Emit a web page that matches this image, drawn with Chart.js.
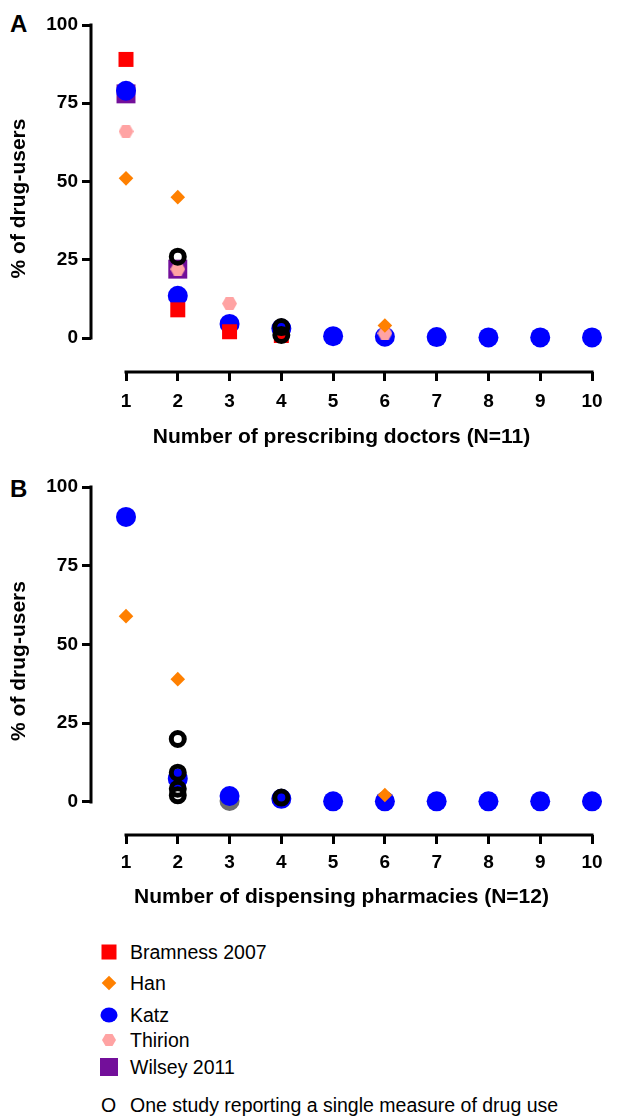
<!DOCTYPE html>
<html>
<head>
<meta charset="utf-8">
<script src="https://cdn.jsdelivr.net/npm/chart.js@4.4.0/dist/chart.umd.min.js"></script>
<style>
  body { margin: 0; background: #fff; width: 628px; height: 1117px; position: relative; overflow: hidden;
         font-family: "Liberation Sans", Arial, sans-serif; color: #000; }
  canvas { position: absolute; left: 0; }
  .tag { position: absolute; left: 10px; font-weight: bold; font-size: 24px; line-height: 24px; }
  .leg { position: absolute; left: 0; height: 24px; line-height: 24px; font-size: 19.5px; }
  .leg svg { position: absolute; left: 99px; top: 2px; }
  .leg span { position: absolute; left: 130px; white-space: nowrap; }
</style>
</head>
<body>
<div class="tag" style="top:12px">A</div>
<div class="tag" style="top:477px">B</div>
<canvas id="chartA" width="628" height="455" style="top:0"></canvas>
<canvas id="chartB" width="628" height="455" style="top:460px"></canvas>

<div class="leg" style="top:940px"><svg width="20" height="20"><rect x="2.5" y="2.5" width="15" height="15" fill="#ff0000"/></svg><span>Bramness 2007</span></div>
<div class="leg" style="top:971px"><svg width="20" height="20"><polygon points="10,2.7 17.3,10 10,17.3 2.7,10" fill="#ff8000"/></svg><span>Han</span></div>
<div class="leg" style="top:1003px"><svg width="20" height="20"><ellipse cx="10" cy="10" rx="8.5" ry="7.5" fill="#0000ff"/></svg><span>Katz</span></div>
<div class="leg" style="top:1028px"><svg width="20" height="20"><polygon points="3,10 6.5,4 13.5,4 17,10 13.5,16 6.5,16" fill="#ffa3a3"/></svg><span>Thirion</span></div>
<div class="leg" style="top:1055px"><svg width="20" height="20"><rect x="1" y="1" width="18" height="18" fill="#730f9a"/></svg><span>Wilsey 2011</span></div>
<div class="leg" style="top:1093px"><span style="left:101px">O</span><span>One study reporting a single measure of drug use</span></div>

<script>
// x categories (number of doctors / pharmacies)
var xValues = [1, 2, 3, 4, 5, 6, 7, 8, 9, 10];
var yTickValues = [0, 25, 50, 75, 100];

// panel A: prescribing doctors
var bramnessA = [89, 9, 2, 0.8, null, null, null, null, null, null];
var hanA      = [51, 45, null, null, null, 4, null, null, null, null];
var katzA     = [79, 13.5, 4.5, 3, 0.6, 0.4, 0.3, 0.2, 0.2, 0.2];
var thirionA  = [66, 22, 11, null, null, 1.5, null, null, null, null];
var wilseyA   = [78, 22, null, null, null, null, null, null, null, null];
var singleAx  = [2, 4, 4];
var singleAy  = [26, 3.5, 1];

// panel B: dispensing pharmacies
var hanB      = [59, 39, null, null, null, 2.2, null, null, null, null];
var katzB     = [90.5, 7.4, 1.9, 1, 0.2, 0.2, 0.2, 0.2, 0.2, 0.2];
var singleBx  = [2, 2, 2, 2, 4];
var singleBy  = [20, 9.3, 4.2, 2.1, 1.4];
var greyBx    = [3];
var greyBy    = [0.3];

function pts(xs, ys) {
  var out = [];
  for (var i = 0; i < ys.length; i++) {
    if (ys[i] !== null) out.push({x: xs[i], y: ys[i]});
  }
  return out;
}

function hexImage() {
  var c = document.createElement('canvas');
  c.width = 15; c.height = 13;
  var g = c.getContext('2d');
  g.fillStyle = '#ffa3a3';
  g.beginPath();
  g.moveTo(0, 6.5); g.lineTo(3.7, 0); g.lineTo(11.3, 0); g.lineTo(15, 6.5);
  g.lineTo(11.3, 13); g.lineTo(3.7, 13); g.closePath();
  g.fill();
  return c;
}
var hex = hexImage();

function ds(data, style, radius, color, extra) {
  var d = {
    data: data, pointStyle: style, pointRadius: radius, pointHoverRadius: radius,
    backgroundColor: color, borderColor: color, borderWidth: 0, showLine: false, clip: false
  };
  for (var k in extra) d[k] = extra[k];
  return d;
}
function rings(data) {
  return ds(data, 'circle', 6.5, 'rgba(0,0,0,0)', {borderColor: '#000', borderWidth: 5});
}

var axisLines = {
  id: 'axisLines',
  beforeDatasetsDraw: function(chart) {
    var ctx = chart.ctx, sx = chart.scales.x, sy = chart.scales.y, a = chart.chartArea;
    ctx.save();
    ctx.strokeStyle = '#000';
    ctx.lineWidth = 3;
    ctx.lineCap = 'square';
    ctx.beginPath();
    ctx.moveTo(sx.getPixelForValue(1), a.bottom);
    ctx.lineTo(sx.getPixelForValue(10), a.bottom);
    ctx.moveTo(a.left, sy.getPixelForValue(0));
    ctx.lineTo(a.left, sy.getPixelForValue(100));
    ctx.stroke();
    ctx.restore();
  }
};

function loadChart(canvasId, datasets, xTitle, topPad, yMin, xAxisHeight, tickPad) {
  var ctx = document.getElementById(canvasId).getContext('2d');
  return new Chart(ctx, {
    type: 'scatter',
    data: {datasets: datasets},
    plugins: [axisLines],
    options: {
      responsive: false,
      animation: false,
      events: [],
      layout: {padding: {left: 0, top: topPad, right: 36, bottom: 0}},
      plugins: {legend: {display: false}, tooltip: {enabled: false}},
      scales: {
        x: {
          type: 'linear', min: 0.324, max: 10,
          afterBuildTicks: function(s) { s.ticks = xValues.map(function(v) { return {value: v}; }); },
          afterFit: function(s) { s.height = xAxisHeight; },
          border: {display: false},
          grid: {display: true, drawOnChartArea: false, drawTicks: true, tickLength: 9, color: '#000', lineWidth: 3},
          ticks: {color: '#000', padding: tickPad, font: {family: 'Liberation Sans', size: 19, weight: 'bold'}, maxRotation: 0},
          title: {display: true, text: xTitle, color: '#000', padding: {top: 0, bottom: 5},
                  font: {family: 'Liberation Sans', size: 21, weight: 'bold'}}
        },
        y: {
          type: 'linear', min: yMin, max: 100,
          afterBuildTicks: function(s) { s.ticks = yTickValues.map(function(v) { return {value: v}; }); },
          afterFit: function(s) { s.width = 91; },
          border: {display: false},
          grid: {display: true, drawOnChartArea: false, drawTicks: true, tickLength: 9, color: '#000', lineWidth: 3},
          ticks: {color: '#000', padding: 4, font: {family: 'Liberation Sans', size: 19, weight: 'bold'}},
          title: {display: true, text: '% of drug-users', color: '#000', padding: {top: 7, bottom: 0},
                  font: {family: 'Liberation Sans', size: 21, weight: 'bold'}}
        }
      }
    }
  });
}

loadChart('chartA', [
  rings(pts(singleAx, singleAy)),
  ds(pts(xValues, hanA), 'rectRot', 7.3, '#ff8000'),
  ds(pts(xValues, thirionA), hex, 7, '#ffa3a3'),
  ds(pts(xValues, bramnessA), 'rect', 10.6, '#ff0000'),
  ds(pts(xValues, katzA), 'circle', 10, '#0000ff'),
  ds(pts(xValues, wilseyA), 'rect', 13.4, '#730f9a')
], 'Number of prescribing doctors (N=11)', 25, -10.86, 83, 9);

loadChart('chartB', [
  rings(pts(singleBx, singleBy)),
  ds(pts(xValues, hanB), 'rectRot', 7.3, '#ff8000'),
  ds(pts(xValues, katzB), 'circle', 10, '#0000ff'),
  ds(pts(greyBx, greyBy), 'circle', 10, '#6e6e6e')
], 'Number of dispensing pharmacies (N=12)', 27, -10.48, 80, 7);
</script>
</body>
</html>
